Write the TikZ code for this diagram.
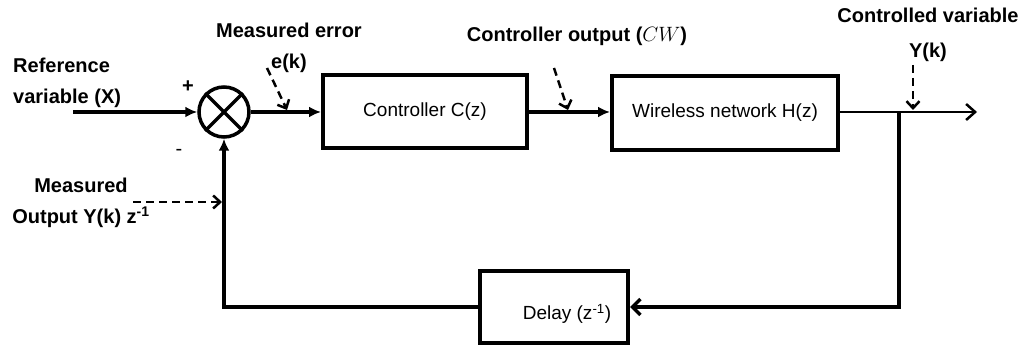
\documentclass[tikz,border=0pt]{standalone}
\usepackage{fontspec}
\setmainfont{Liberation Sans}
\usetikzlibrary{arrows.meta, positioning, calc}

\begin{document}
\begin{tikzpicture}[x=1pt, y=1pt,
    blk/.style={draw, line width=4pt, minimum width=#1, minimum height=73pt, inner sep=0pt, font=\fontsize{19}{22}\selectfont},
    sig/.style={line width=3.5pt, -{Latex[length=12pt,width=11pt]}},
    outln/.style={line width=2.5pt},
    lbl/.style={font=\fontsize{20}{31}\selectfont\bfseries, align=center, inner sep=0pt},
    meas/.style={line width=2.5pt, dash pattern=on 8pt off 5pt, -{Straight Barb[length=7pt,width=13pt]}}
]
\useasboundingbox (0,0) rectangle (1031,345);

% blocks
\node[circle, draw, line width=3.5pt, minimum size=50pt, inner sep=0pt] (sum) at (224,233) {};
\draw[line width=3.5pt] (sum.north west) -- (sum.south east) (sum.north east) -- (sum.south west);
\node[blk=204pt] (ctrl) at (425,233) {Controller C(z)};
\node[blk=226pt, minimum height=74pt] (net) at (725,232) {Wireless network H(z)};
\node[blk=148pt, minimum height=72pt] (delay) at (554,38) {};
\node[font=\fontsize{19}{22}\selectfont, inner sep=0pt] (delaytxt) at (567,31) {Delay (z\textsuperscript{-1})};

% forward path
\coordinate (in) at (73,233);
\coordinate (branch) at (899,233);
\coordinate (out) at (977,233);
\draw[sig] (in) -- (sum.west);
\draw[sig] (sum.east) -- (ctrl.west);
\draw[sig] (ctrl.east) -- (ctrl.east -| net.west);
\draw[outln] (branch -| net.east) -- (branch);
\draw[outln, -{Straight Barb[length=9pt,width=16pt]}] (branch) -- (out);

% feedback
\draw[line width=3.5pt, -{Straight Barb[length=8pt,width=16pt]}] (branch) |- (delay.east);
\draw[sig] (delay.west) -| (sum.south);

% labels
\node[lbl, anchor=west, align=left] (ref) at (13,262) {Reference\\variable (X)};
\node[font=\fontsize{20}{22}\selectfont\bfseries] (plus) at (188,258) {+};
\node[font=\fontsize{20}{22}\selectfont] (minus) at (179,193) {-};
\node[lbl] (err) at (289,297) {Measured error\\e(k)};
\node[lbl] (cw) at (577,309) {Controller output ($CW$)};
\node[lbl, font=\fontsize{20}{35}\selectfont\bfseries] (yk) at (928,310) {Controlled variable\\Y(k)};
\node[lbl] (mout) at (81,142) {Measured\\Output Y(k) z\textsuperscript{-1}};

% measured signals
\coordinate (ekfrom) at (267,277);
\coordinate (ekto) at (287,235);
\coordinate (cwfrom) at (554,277);
\coordinate (cwto) at (568,235);
\coordinate (ykfrom) at (913,280);
\coordinate (ykto) at (913,235);
\coordinate (mofrom) at (133,143);
\coordinate (moto) at (222,143);
\draw[meas] (ekfrom) -- (ekto);
\draw[meas] (cwfrom) -- (cwto);
\draw[meas] (ykfrom) -- (ykto);
\draw[meas] (mofrom) -- (moto);
\end{tikzpicture}
\end{document}
